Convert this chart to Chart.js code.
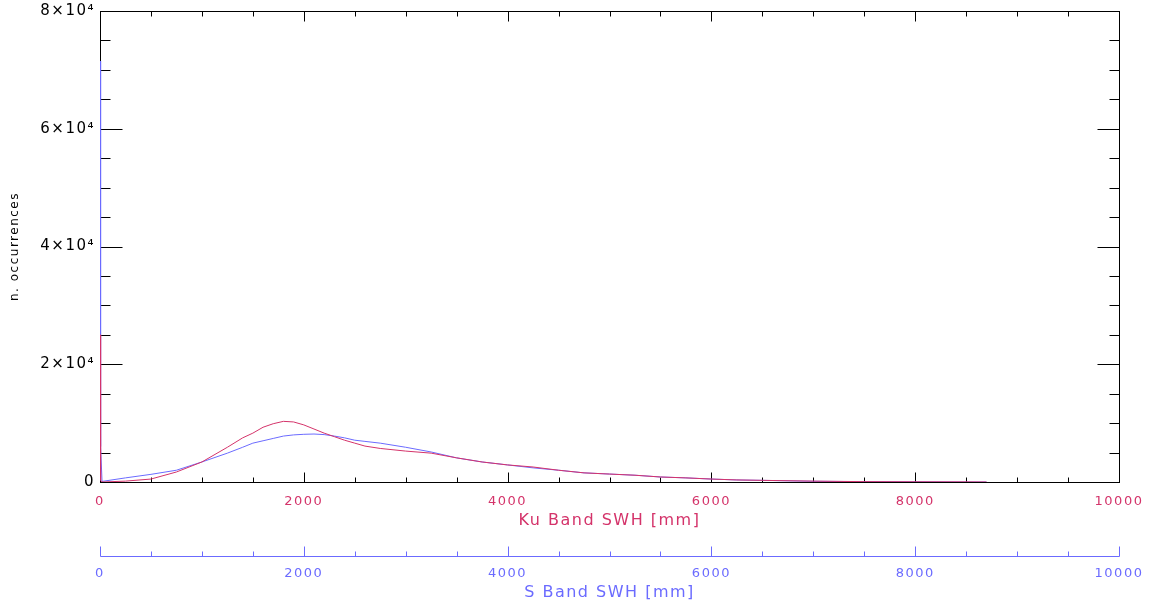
<!DOCTYPE html>
<html>
<head>
<meta charset="utf-8">
<title>SWH histogram</title>
<script src="https://cdn.jsdelivr.net/npm/chart.js@4.4.1/dist/chart.umd.min.js"></script>
<style>
  html, body { margin: 0; padding: 0; background: #fff; }
  canvas { display: block; }
</style>
</head>
<body>
<canvas id="chart1" width="1151" height="602"></canvas>
<script>
// histogram bins (mm) and counts per band
const swhMm = [0, 4, 8, 20, 250, 500, 750, 1000, 1250, 1400, 1500, 1600, 1700, 1800, 1900, 2000, 2100,
  2200, 2300, 2400, 2500, 2600, 2750, 3000, 3250, 3500, 3750, 4000, 4250, 4500, 4750, 5000, 5250, 5500,
  5750, 6000, 6250, 6500, 7000, 7500, 8000, 8500, 8700];
const kuCounts = [25000, 18000, 300, 0, 150, 500, 1700, 3400, 5900, 7500, 8300, 9300, 9900, 10300, 10200,
  9700, 9000, 8300, 7700, 7100, 6600, 6100, 5700, 5250, 4900, 4100, 3400, 2900, 2550, 2000, 1550, 1350,
  1150, 850, 700, 500, 350, 280, 150, 60, 30, 20, 0];
const sCounts = [71500, 54000, 6000, 100, 700, 1300, 2000, 3400, 4900, 5900, 6600, 7000, 7400, 7800, 8000,
  8100, 8150, 8050, 7800, 7500, 7100, 6900, 6600, 5900, 5100, 4100, 3400, 2900, 2400, 2000, 1550, 1350,
  1150, 850, 700, 500, 350, 280, 120, 60, 30, 0, 0];

const xTicks = [0, 2000, 4000, 6000, 8000, 10000];
const yTicks = [0, 20000, 40000, 60000, 80000];
const yTickLabels = ['0', '2×10⁴', '4×10⁴', '6×10⁴', '8×10⁴'];
const xMinor = 500;
const yMinor = 5000;

const KU = '#d4336a';
const S = '#6b6bff';
const TICK_FONT = { family: 'DejaVu Sans', size: 13 };
const TITLE_FONT = { family: 'DejaVu Sans', size: 16 };

function pts(ys) {
  return swhMm.map((x, i) => ({ x: x, y: ys[i] }));
}

// wider glyph spacing for all canvas text
const spacing = {
  id: 'spacing',
  beforeLayout(chart) { chart.ctx.letterSpacing = '1.5px'; },
  beforeDraw(chart) { chart.ctx.letterSpacing = '1.5px'; }
};

// box around the plot, inward ticks, and the second (S band) axis line
const frame = {
  id: 'frame',
  beforeDatasetsDraw(chart) {
    const { ctx, chartArea: a, scales } = chart;
    const L = Math.round(a.left) + 0.5, R = Math.round(a.right) + 0.5;
    const T = Math.round(a.top) + 0.5, B = Math.round(a.bottom) + 0.5;
    const seg = (x1, y1, x2, y2) => { ctx.beginPath(); ctx.moveTo(x1, y1); ctx.lineTo(x2, y2); ctx.stroke(); };
    ctx.save();
    ctx.lineWidth = 1;
    ctx.strokeStyle = '#000';
    ctx.strokeRect(L, T, R - L, B - T);
    for (let v = 0; v <= 10000; v += xMinor) {
      const px = Math.round(scales.x.getPixelForValue(v)) + 0.5;
      const len = v % 2000 === 0 ? 10 : 5;
      seg(px, B, px, B - len);
      seg(px, T, px, T + len);
    }
    for (let v = 0; v <= 80000; v += yMinor) {
      const py = Math.round(scales.y.getPixelForValue(v)) + 0.5;
      const len = v % 20000 === 0 ? 22 : 10;
      seg(L, py, L + len, py);
      seg(R, py, R - len, py);
    }
    const y2 = Math.round(scales.x2.top) + 0.5;
    ctx.strokeStyle = S;
    seg(L, y2, R, y2);
    for (let v = 0; v <= 10000; v += xMinor) {
      const px = Math.round(scales.x2.getPixelForValue(v)) + 0.5;
      const len = v % 2000 === 0 ? 10 : 5;
      seg(px, y2, px, y2 - len);
    }
    ctx.restore();
  }
};

const fixedTicks = list => scale => { scale.ticks = list.map(v => ({ value: v })); };
// fixed box sizes; the last tick label may run off the canvas edge
const fixHeight = h => s => { s.height = h; s.paddingLeft = 0; s.paddingRight = 0; };

new Chart(document.getElementById('chart1'), {
  type: 'line',
  data: {
    datasets: [
      {
        label: 'Ku Band',
        data: pts(kuCounts),
        borderColor: KU,
        borderWidth: 1,
        pointRadius: 0,
        tension: 0,
        xAxisID: 'x'
      },
      {
        label: 'S Band',
        data: pts(sCounts),
        borderColor: S,
        borderWidth: 1,
        pointRadius: 0,
        tension: 0,
        xAxisID: 'x'
      }
    ]
  },
  options: {
    responsive: false,
    animation: false,
    events: [],
    layout: { padding: { left: 0, right: 32, top: 11, bottom: 0 } },
    plugins: { legend: { display: false }, tooltip: { enabled: false } },
    scales: {
      x: {
        type: 'linear',
        position: 'bottom',
        min: 0, max: 10000,
        afterBuildTicks: fixedTicks(xTicks),
        afterFit: fixHeight(74),
        grid: { display: false, drawTicks: false },
        border: { display: false },
        ticks: { color: KU, font: TICK_FONT, padding: 12, maxRotation: 0, autoSkip: false, callback: v => String(v) },
        title: { display: true, text: 'Ku Band SWH [mm]', color: KU, font: TITLE_FONT, padding: { top: 0, bottom: 26 } }
      },
      x2: {
        type: 'linear',
        position: 'bottom',
        min: 0, max: 10000,
        afterBuildTicks: fixedTicks(xTicks),
        afterFit: fixHeight(46),
        grid: { display: false, drawTicks: false },
        border: { display: false },
        ticks: { color: S, font: TICK_FONT, padding: 10, maxRotation: 0, autoSkip: false, callback: v => String(v) },
        title: { display: true, text: 'S Band SWH [mm]', color: S, font: TITLE_FONT, padding: { top: 0, bottom: 0 } }
      },
      y: {
        type: 'linear',
        position: 'left',
        min: 0, max: 80000,
        afterBuildTicks: fixedTicks(yTicks),
        afterFit: s => { s.width = 100; s.paddingTop = 0; s.paddingBottom = 0; },
        grid: { display: false, drawTicks: false },
        border: { display: false },
        ticks: { color: '#000', font: { family: 'DejaVu Sans', size: 15 }, padding: 5, callback: v => yTickLabels[yTicks.indexOf(v)] },
        title: { display: true, text: 'n. occurrences', color: '#000', font: { family: 'DejaVu Sans', size: 12 }, padding: { top: 8, bottom: 0 } }
      }
    }
  },
  plugins: [spacing, frame]
});
</script>
</body>
</html>
